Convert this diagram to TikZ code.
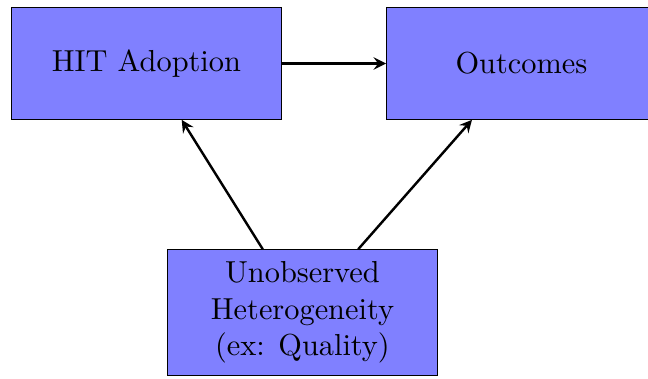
\documentclass[tikz,border=0pt]{standalone}
\usepackage{tikz}
\usetikzlibrary{arrows,positioning}

\begin{document}
\begin{tikzpicture}[
factor/.style={rectangle, draw, fill=blue!50, minimum width=3.12cm, minimum height=1.29cm, align=center},
effect/.style={-stealth, thick}
]
\useasboundingbox (0,0) rectangle (7.5,-4.375);
\node[factor] (hit) at (1.695,-0.735) {HIT Adoption};
\node[factor] (outcomes) at (6.035,-0.735) {Outcomes};
\node[factor, minimum height=1.455cm] (hetero) at (3.501,-3.619) {Unobserved\\Heterogeneity\\(ex: Quality)};
\draw[effect] (hit) -- (outcomes);
\draw[effect] (hetero) -- (hit);
\draw[effect] (hetero) -- (outcomes);
\end{tikzpicture}
\end{document}
